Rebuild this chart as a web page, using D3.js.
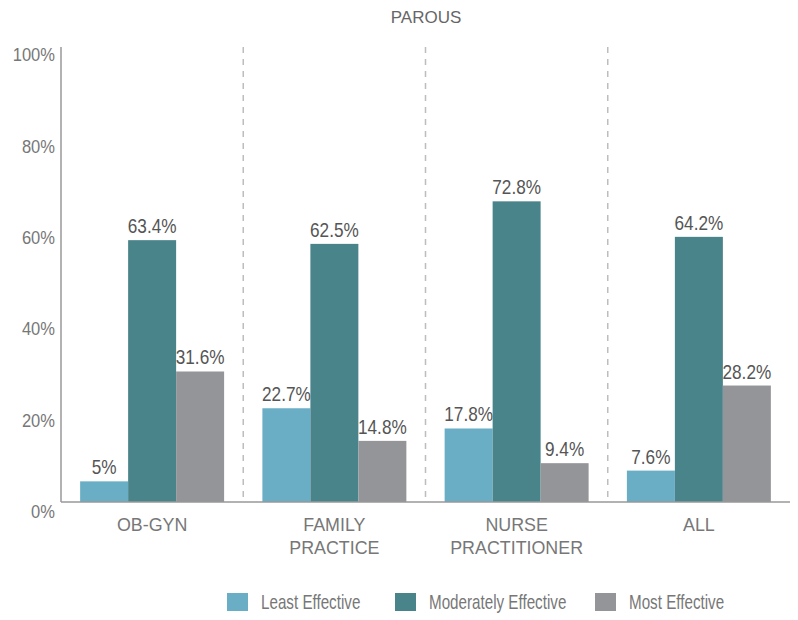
<!DOCTYPE html>
<html>
<head>
<meta charset="utf-8">
<script src="https://cdn.jsdelivr.net/npm/d3@7"></script>
<style>
body { margin: 0; background: #fff; }
text { font-family: "Liberation Sans", Arial, sans-serif; }
</style>
</head>
<body>
<svg width="798" height="620"></svg>
<script>
var categories = [['OB-GYN'], ['FAMILY', 'PRACTICE'], ['NURSE', 'PRACTITIONER'], ['ALL']];
var series = ['Least Effective', 'Moderately Effective', 'Most Effective'];
var leastVals = [5, 22.7, 17.8, 7.6];
var moderateVals = [63.4, 62.5, 72.8, 64.2];
var mostVals = [31.6, 14.8, 9.4, 28.2];
var valueLabels = [['5%', '22.7%', '17.8%', '7.6%'], ['63.4%', '62.5%', '72.8%', '64.2%'], ['31.6%', '14.8%', '9.4%', '28.2%']];
var yTicks = [0, 20, 40, 60, 80, 100];
var colors = ['#6aaec6', '#4a848b', '#949598'];

var svg = d3.select('svg');
var values = [leastVals, moderateVals, mostVals];
var keys = categories.map(function(c){ return c.join(' '); });

// no narrow font here, so squeeze text sideways
function squeezed(x, y, sx){
  return 'translate(' + x + ',' + y + ') scale(' + sx + ',1)';
}

var x0 = d3.scaleBand().domain(keys).range([61, 790]).paddingInner(0.21).paddingOuter(0.105);
var x1 = d3.scaleBand().domain(series).range([0, x0.bandwidth()]);
// bars use this one
var y = d3.scaleLinear().domain([0, 100]).range([502, 89]);
// tick labels sit on their own scale in the original
var yLab = d3.scaleLinear().domain([0, 100]).range([512, 55]);

svg.append('text').attr('x', 426).attr('y', 23).attr('text-anchor', 'middle')
  .attr('font-size', 17).attr('fill', '#666').text('PAROUS');

// dashed separators
var step = x0.step();
keys.slice(1).forEach(function(k){
  var xx = x0(k) - step * x0.paddingInner() / 2;
  svg.append('line').attr('x1', xx).attr('x2', xx).attr('y1', 47).attr('y2', 502)
    .attr('stroke', '#bdbdbd').attr('stroke-width', 1.5).attr('stroke-dasharray', '6,6');
});

// bars
series.forEach(function(s, si){
  svg.append('g').selectAll('rect').data(values[si]).join('rect')
    .attr('x', function(d, i){ return x0(keys[i]) + x1(s); })
    .attr('y', function(d){ return y(d); })
    .attr('width', x1.bandwidth())
    .attr('height', function(d){ return y(0) - y(d); })
    .attr('fill', colors[si]);
  svg.append('g').selectAll('text').data(values[si]).join('text')
    .attr('transform', function(d, i){
      return squeezed(x0(keys[i]) + x1(s) + x1.bandwidth() / 2, y(d) - 7, 0.86);
    })
    .attr('text-anchor', 'middle').attr('font-size', 20).attr('fill', '#555')
    .text(function(d, i){ return valueLabels[si][i]; });
});

// axes
svg.append('line').attr('x1', 61).attr('x2', 61).attr('y1', 47).attr('y2', 502)
  .attr('stroke', '#999').attr('stroke-width', 1.5);
svg.append('line').attr('x1', 61).attr('x2', 790).attr('y1', 502).attr('y2', 502)
  .attr('stroke', '#999').attr('stroke-width', 1.5);

var yAxis = d3.axisLeft(yLab).tickValues(yTicks).tickSize(0).tickPadding(0)
  .tickFormat(function(d){ return d + '%'; });
var ya = svg.append('g').attr('transform', 'translate(55,0)').call(yAxis);
ya.select('.domain').remove();
ya.selectAll('text').attr('font-size', 18).attr('fill', '#777')
  .attr('transform', 'scale(0.92,1)')
  .style('font-family', '"Liberation Sans", Arial, sans-serif');

// category labels
categories.forEach(function(c, i){
  var cx = x0(keys[i]) + x0.bandwidth() / 2;
  c.forEach(function(line, li){
    svg.append('text').attr('transform', squeezed(cx, 531 + li * 23, 0.94))
      .attr('text-anchor', 'middle').attr('font-size', 19).attr('fill', '#777').text(line);
  });
});

// legend
var legX = [227, 395, 595];
series.forEach(function(s, si){
  svg.append('rect').attr('x', legX[si]).attr('y', 593).attr('width', 21).attr('height', 18).attr('fill', colors[si]);
  svg.append('text').attr('transform', squeezed(legX[si] + 34, 609, 0.76))
    .attr('font-size', 20).attr('fill', '#777').text(s);
});
</script>
</body>
</html>
